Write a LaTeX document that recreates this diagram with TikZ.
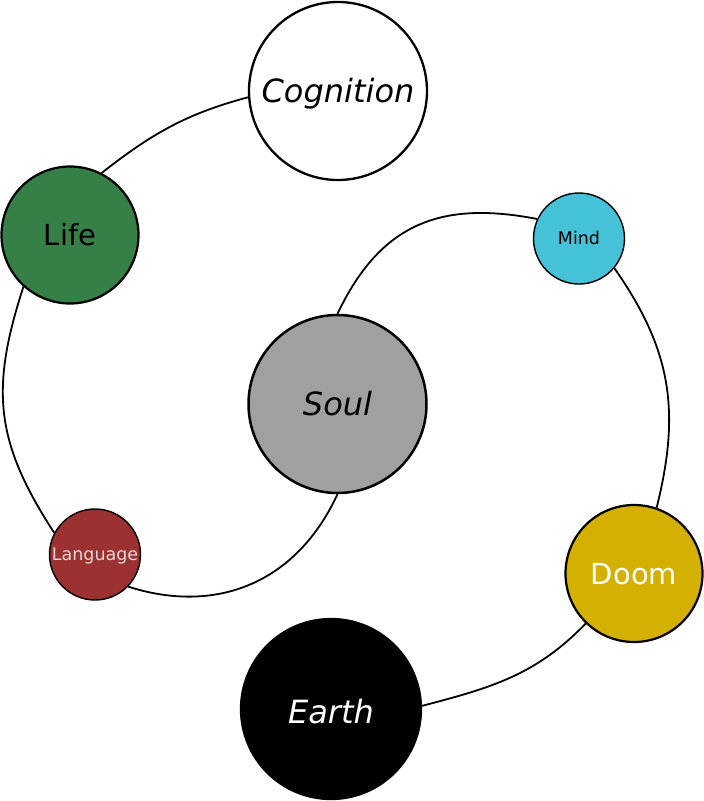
\documentclass[tikz,border=0pt]{standalone}
\usepackage{fontspec}
\setmainfont{DejaVu Sans}
\definecolor{lifegreen}{HTML}{367F46}
\definecolor{mindcyan}{HTML}{45C2D8}
\definecolor{langred}{HTML}{9C3131}
\definecolor{langtext}{HTML}{E0D6D6}
\definecolor{doomgold}{HTML}{D4B000}
\definecolor{soulgray}{HTML}{A0A0A0}
\begin{document}
\begin{tikzpicture}[x=1pt,y=1pt,
  orb/.style={circle,draw=black,inner sep=0pt,text depth=0pt},
  big/.style={orb,minimum size=178pt,line width=2.3pt,text height=23.4pt,font=\fontsize{32}{38}\selectfont\itshape},
  mid/.style={orb,minimum size=137pt,line width=2.2pt,text height=21.2pt,font=\fontsize{29}{34}\selectfont},
  small/.style={orb,minimum size=91pt,line width=1.4pt,text height=12.8pt,font=\fontsize{17.5}{21}\selectfont},
  link/.style={draw=black,line width=1.8pt}]
\useasboundingbox (0,0) rectangle (704,-801);
\node[big,fill=white] (cog) at (338,-91) {Cognition};
\node[mid,fill=lifegreen] (life) at (70,-235) {Life};
\node[small,fill=mindcyan] (mind) at (579,-238.5) {Mind};
\node[big,fill=soulgray,line width=2.5pt] (soul) at (337.5,-404) {Soul};
\node[small,fill=langred,text=langtext] (lang) at (95,-554.5) {Language};
\node[mid,fill=doomgold,text=white] (doom) at (634,-573.5) {Doom};
\node[big,fill=black,text=white,minimum size=180pt] (earth) at (331,-709) {};
\node[font=\fontsize{32}{38}\selectfont\itshape,text=white,inner sep=0pt,text height=23.4pt,text depth=0pt] (earthlabel) at ([yshift=-3pt]earth.center) {Earth};
\path[link] (cog.184) to[out=195,in=38] (life.63);
\path[link] (life.228) to[out=252,in=123,looseness=1.12] (lang.152);
\path[link] (lang.316) .. controls +(-18:85) and +(245:105) .. (soul.270);
\path[link] (soul.90) to[out=64.5,in=169,looseness=1.15] (mind.155);
\path[link] (mind.320) to[out=305,in=76,looseness=1.05] (doom.71);
\path[link] (doom.226) to[out=226,in=14.6] (earth.2.5);
\end{tikzpicture}
\end{document}
